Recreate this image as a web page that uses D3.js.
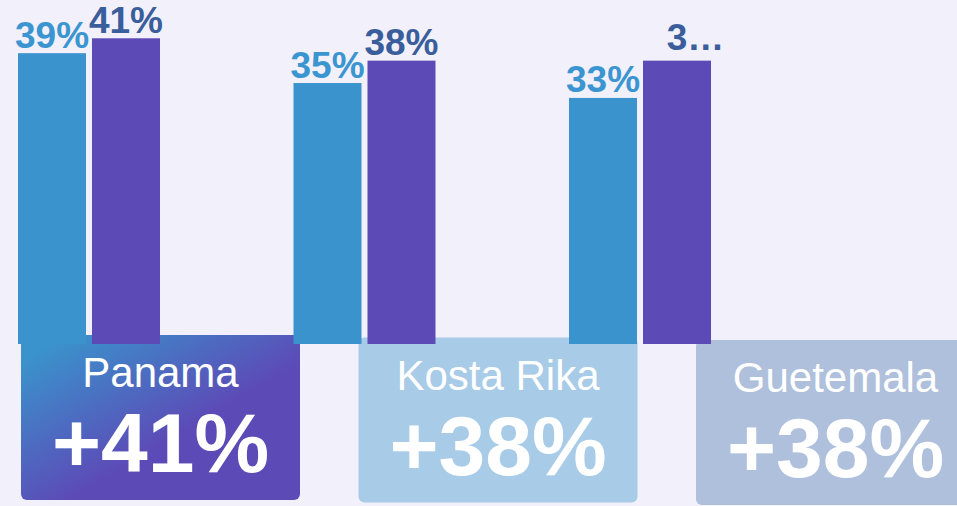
<!DOCTYPE html>
<meta charset="utf-8">
<style>
body { margin: 0; background: #f2f0fa; }
svg { display: block; font-family: "Liberation Sans", Arial, sans-serif; }
.rotulo { font-size: 37px; font-weight: bold; text-anchor: middle; }
.cartao-nome { fill: #fff; font-size: 42px; text-anchor: middle; }
.cartao-valor { fill: #fff; font-size: 84px; font-weight: bold; text-anchor: middle; }
</style>
<svg width="957" height="506"></svg>
<script src="https://d3js.org/d3.v7.min.js"></script>
<script>

// dados
var paises = ["Panama", "Kosta Rika", "Guetemala"];
var serieA = [39, 35, 33];
var serieB = [41, 38, 38];
var rotulosA = ["39%", "35%", "33%"];
var rotulosB = ["41%", "38%", "3…"];
var cartaoValores = ["+41%", "+38%", "+38%"];

var azul = "#3a93cc", roxo = "#5c4bb7";
var corRotuloA = "#3b95d0", corRotuloB = "#3a5e9b";

var svg = d3.select("svg");

var defs = svg.append("defs");
var grad = defs.append("linearGradient")
    .attr("id", "grad")
    .attr("x1", 0).attr("y1", 0).attr("x2", 1).attr("y2", 1);
grad.append("stop").attr("offset", 0.08).attr("stop-color", azul);
grad.append("stop").attr("offset", 0.58).attr("stop-color", roxo);

// escalas
var x0 = d3.scaleBand().domain(paises).range([18, 711]).paddingInner(0.4846);
var x1 = d3.scaleBand().domain(["a", "b"]).range([0, x0.bandwidth()]).paddingInner(0.081);
var y = d3.scaleLinear().domain([0, 46]).range([344, 1]);

var dados = paises.map((p, i) => ({
  pais: p,
  barras: [
    {k: "a", v: serieA[i], rot: rotulosA[i], cor: azul, corRot: corRotuloA},
    {k: "b", v: serieB[i], rot: rotulosB[i], cor: roxo, corRot: corRotuloB}
  ]
}));

// cartoes
var cw = 279, ch = 165;
var cartoes = svg.append("g").selectAll("g")
    .data(paises)
    .enter().append("g")
    .attr("transform", (d, i) => "translate(" + (21 + i * 337.5) + "," + (335 + i * 2.5) + ")");

cartoes.append("rect")
    .attr("width", cw).attr("height", ch)
    .attr("rx", 6)
    .attr("fill", (d, i) => i == 0 ? "url(#grad)" : (i == 1 ? azul : "#4a78b0"))
    .attr("fill-opacity", (d, i) => i == 0 ? 1 : 0.4);

cartoes.append("text")
    .attr("class", "cartao-nome")
    .attr("x", cw / 2).attr("y", 52)
    .text(d => d);

cartoes.append("text")
    .attr("class", "cartao-valor")
    .attr("x", cw / 2).attr("y", 137)
    .text((d, i) => cartaoValores[i]);

// barras
var grupos = svg.append("g").selectAll("g")
    .data(dados)
    .enter().append("g")
    .attr("transform", d => "translate(" + x0(d.pais) + ",0)");

grupos.selectAll("rect")
    .data(d => d.barras)
    .enter().append("rect")
    .attr("x", d => x1(d.k))
    .attr("y", d => y(d.v))
    .attr("width", x1.bandwidth())
    .attr("height", d => y(0) - y(d.v))
    .attr("fill", d => d.cor);

grupos.selectAll("text")
    .data(d => d.barras)
    .enter().append("text")
    .attr("class", "rotulo")
    .attr("x", d => x1(d.k) + x1.bandwidth() / 2 + (d.rot.endsWith("…") ? 18.5 : 0))
    .attr("y", d => y(d.v) - (d.rot.endsWith("…") ? 11 : 5.5))
    .attr("fill", d => d.corRot)
    .text(d => d.rot);

// os dois primeiros cartoes ficam por cima das barras
cartoes.filter((d, i) => i < 2).raise();

</script>
